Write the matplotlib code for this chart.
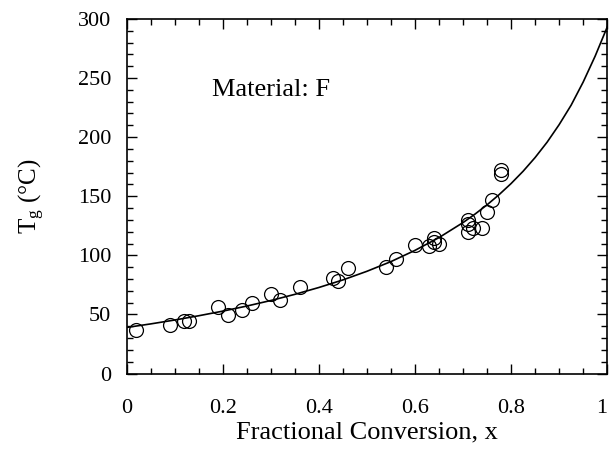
import matplotlib
matplotlib.use('Agg')
import matplotlib.pyplot as plt
from matplotlib.ticker import MultipleLocator

plt.rcParams['font.family'] = ['Liberation Serif', 'DejaVu Serif']
plt.rcParams['mathtext.fontset'] = 'custom'
plt.rcParams['mathtext.rm'] = 'Liberation Serif'
plt.rcParams['mathtext.it'] = 'Liberation Serif:italic'

# measured points (fractional conversion, Tg in C)
conv = [0.02, 0.09, 0.12, 0.13, 0.19, 0.21, 0.24, 0.26, 0.30, 0.32, 0.36,
        0.43, 0.44, 0.46, 0.54, 0.56, 0.60, 0.63, 0.64, 0.64, 0.65,
        0.71, 0.71, 0.71, 0.72, 0.74, 0.75, 0.76, 0.78, 0.78]
tg = [37, 41, 44.5, 44.5, 56.5, 49.5, 54, 59.5, 67, 62.5, 73.5,
      80.5, 78.5, 89.5, 90.5, 97, 109, 107.5, 114.5, 111.5, 109.5,
      130, 120, 126.5, 123.5, 123, 137, 147, 172, 169]

# fitted curve
fit_x = [0, 0.05, 0.1, 0.15, 0.2, 0.25, 0.3, 0.35, 0.4, 0.45, 0.5, 0.55,
         0.6, 0.65, 0.7, 0.725, 0.75, 0.775, 0.8, 0.825, 0.85, 0.875,
         0.9, 0.925, 0.95, 0.975, 1.0]
fit_y = [39, 42, 45.3, 48.9, 52.8, 57.1, 61.8, 67, 72.8, 79.2, 86.5, 94.7,
         104.2, 115, 127.7, 134.9, 142.7, 151.3, 160.7, 171.1, 182.7, 195.7,
         210.5, 227, 246.5, 268.5, 293]

fig = plt.figure(figsize=(6.09, 4.49), dpi=100)
ax = fig.add_axes([0.208, 0.168, 0.789, 0.790])

ax.plot(fit_x, fit_y, color='black', lw=1.2)
ax.plot(conv, tg, 'o', mfc='none', mec='black', ms=10, mew=0.9)

ax.set_xlim(0, 1)
ax.set_ylim(0, 300)
ax.xaxis.set_major_locator(MultipleLocator(0.2))
ax.xaxis.set_minor_locator(MultipleLocator(0.05))
ax.yaxis.set_major_locator(MultipleLocator(50))
ax.yaxis.set_minor_locator(MultipleLocator(10))
ax.set_xticks([0, 0.2, 0.4, 0.6, 0.8, 1.0])
ax.set_xticklabels(['0', '0.2', '0.4', '0.6', '0.8', '1'])
ax.get_xticklabels()[-1].set_ha('right')  # keep the "1" inside the figure

ax.tick_params(which='both', direction='in', top=True, right=True,
               width=1.0, labelsize=16)
ax.tick_params(which='major', length=7)
ax.tick_params(which='minor', length=4)
ax.tick_params(axis='x', pad=18)
ax.tick_params(axis='y', pad=11)
for s in ax.spines.values():
    s.set_linewidth(1.2)

ax.set_xlabel('Fractional Conversion, x', fontsize=19, labelpad=3)
ax.set_ylabel('T$_{\\mathrm{g}}$ (°C)', fontsize=18, labelpad=22)

ax.text(0.177, 240, 'Material: F', fontsize=19, va='center', ha='left')

fig.savefig('out.png', dpi=100)
